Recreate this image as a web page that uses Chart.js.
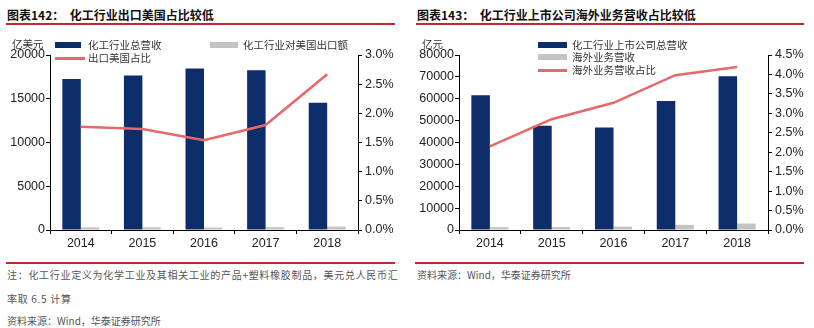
<!DOCTYPE html>
<html>
<head>
<meta charset="utf-8">
<script src="https://cdn.jsdelivr.net/npm/chart.js@4.4.1/dist/chart.umd.min.js"></script>
<style>
  html, body { margin: 0; padding: 0; background: #fff; }
  body { width: 814px; height: 328px; position: relative; overflow: hidden;
         font-family: "Noto Sans CJK SC", "Noto Sans", sans-serif; color: #222; }
  .abs { position: absolute; white-space: nowrap; }
  .title { font-size: 12px; font-weight: bold; color: #111; line-height: 14px; }
  .rule { position: absolute; height: 2px; background: #c0282a; }
  .unit, .leg { font-size: 10.5px; line-height: 12px; color: #333; }
  .sw { position: absolute; }
  .note { font-size: 10px; line-height: 12px; color: #555; }
  .spaced { letter-spacing: 0.7px; }
  .box { position: absolute; }
</style>
</head>
<body>
<!-- left panel -->
<div class="abs title" style="left:7px;top:8px">图表142：&nbsp;&nbsp;化工行业出口美国占比较低</div>
<div class="rule" style="left:6px;top:23px;width:389px"></div>
<div class="box" style="left:0;top:30px;width:410px;height:222px"><canvas id="c1"></canvas></div>
<div class="abs unit" style="left:12px;top:38px">亿美元</div>
<div class="sw" style="left:55px;top:42px;width:26px;height:6px;background:#0e2d6b"></div>
<div class="abs leg" style="left:88px;top:39px">化工行业总营收</div>
<div class="sw" style="left:210px;top:42px;width:28px;height:6px;background:#c3c3c3"></div>
<div class="abs leg" style="left:243px;top:39px">化工行业对美国出口额</div>
<div class="sw" style="left:55px;top:57px;width:30px;height:3px;background:#e5686a"></div>
<div class="abs leg" style="left:88px;top:52px">出口美国占比</div>
<div class="rule" style="left:6px;top:262px;width:389px"></div>
<div class="abs note spaced" style="left:7px;top:269px">注：化工行业定义为化学工业及其相关工业的产品+塑料橡胶制品，美元兑人民币汇</div>
<div class="abs note spaced" style="left:7px;top:293px">率取 6.5 计算</div>
<div class="abs note" style="left:7px;top:315px">资料来源：Wind，华泰证券研究所</div>

<!-- right panel -->
<div class="abs title" style="left:417px;top:8px">图表143：&nbsp;&nbsp;化工行业上市公司海外业务营收占比较低</div>
<div class="rule" style="left:416px;top:23px;width:388px"></div>
<div class="box" style="left:410px;top:30px;width:404px;height:222px"><canvas id="c2"></canvas></div>
<div class="abs unit" style="left:422px;top:38px">亿元</div>
<div class="sw" style="left:538px;top:42px;width:29px;height:6px;background:#0e2d6b"></div>
<div class="abs leg" style="left:572px;top:39px">化工行业上市公司总营收</div>
<div class="sw" style="left:538px;top:54px;width:29px;height:6px;background:#c3c3c3"></div>
<div class="abs leg" style="left:572px;top:51px">海外业务营收</div>
<div class="sw" style="left:538px;top:69px;width:29px;height:3px;background:#e5686a"></div>
<div class="abs leg" style="left:572px;top:64px">海外业务营收占比</div>
<div class="rule" style="left:415px;top:262px;width:389px"></div>
<div class="abs note" style="left:417px;top:269px">资料来源：Wind，华泰证券研究所</div>

<script>
// data
const years = ['2014', '2015', '2016', '2017', '2018'];

// 图表142 (亿美元, %)
const chemRevenue = [17250, 17650, 18450, 18250, 14550];
const chemExportUS = [305, 305, 285, 330, 390];
const exportUSShare = [1.77, 1.73, 1.54, 1.80, 2.67];

// 图表143 (亿元, %)
const listedRevenue = [61600, 47700, 46900, 59000, 70300];
const overseasRevenue = [1320, 1360, 1530, 2350, 2950];
const overseasShare = [2.15, 2.85, 3.27, 3.98, 4.19];

const navy = '#0e2d6b';
const grey = '#c3c3c3';
const red = '#e5686a';
const tickFont = { family: 'Liberation Sans, Arial, sans-serif', size: 12.5 };

function makeChart(id, revenue, part, share, opts) {
  const ctx = document.getElementById(id).getContext('2d');
  return new Chart(ctx, {
    type: 'bar',
    data: {
      labels: years,
      datasets: [
        { type: 'line', data: share, yAxisID: 'y1', borderColor: red, borderWidth: 2.5,
          pointRadius: 0, tension: 0, order: 0 },
        { data: revenue, backgroundColor: navy, yAxisID: 'y', order: 1,
          categoryPercentage: 0.6, barPercentage: 1 },
        { data: part, backgroundColor: grey, yAxisID: 'y', order: 1,
          categoryPercentage: 0.6, barPercentage: 1 }
      ]
    },
    options: {
      responsive: true,
      maintainAspectRatio: false,
      animation: false,
      layout: { padding: { top: 25, left: 0, right: 0, bottom: 0 } },
      plugins: { legend: { display: false }, tooltip: { enabled: false } },
      scales: {
        x: {
          grid: { display: true, drawOnChartArea: false, drawTicks: true, tickLength: 4, color: '#000', offset: true },
          border: { display: true, color: '#000' },
          ticks: { font: tickFont, color: '#222', padding: 2 },
          afterFit: s => { s.height = 22; }
        },
        y: {
          position: 'left', min: 0, max: opts.max,
          grid: { display: true, drawOnChartArea: false, drawTicks: true, tickLength: 4, color: '#000' },
          border: { display: true, color: '#000' },
          ticks: { stepSize: opts.step, font: tickFont, color: '#222', padding: 1,
                   callback: v => String(v) },
          afterFit: s => { s.width = opts.lw; }
        },
        y1: {
          position: 'right', min: 0, max: opts.pmax,
          grid: { display: true, drawOnChartArea: false, drawTicks: true, tickLength: 4, color: '#000' },
          border: { display: true, color: '#000' },
          ticks: { stepSize: 0.5, font: tickFont, color: '#222', padding: 3,
                   callback: v => v.toFixed(1) + '%' },
          afterFit: s => { s.width = opts.rw; }
        }
      }
    }
  });
}

makeChart('c1', chemRevenue, chemExportUS, exportUSShare, { max: 20000, step: 5000, pmax: 3.0, lw: 50, rw: 52 });
makeChart('c2', listedRevenue, overseasRevenue, overseasShare, { max: 80000, step: 10000, pmax: 4.5, lw: 49, rw: 46 });
</script>
</body>
</html>
